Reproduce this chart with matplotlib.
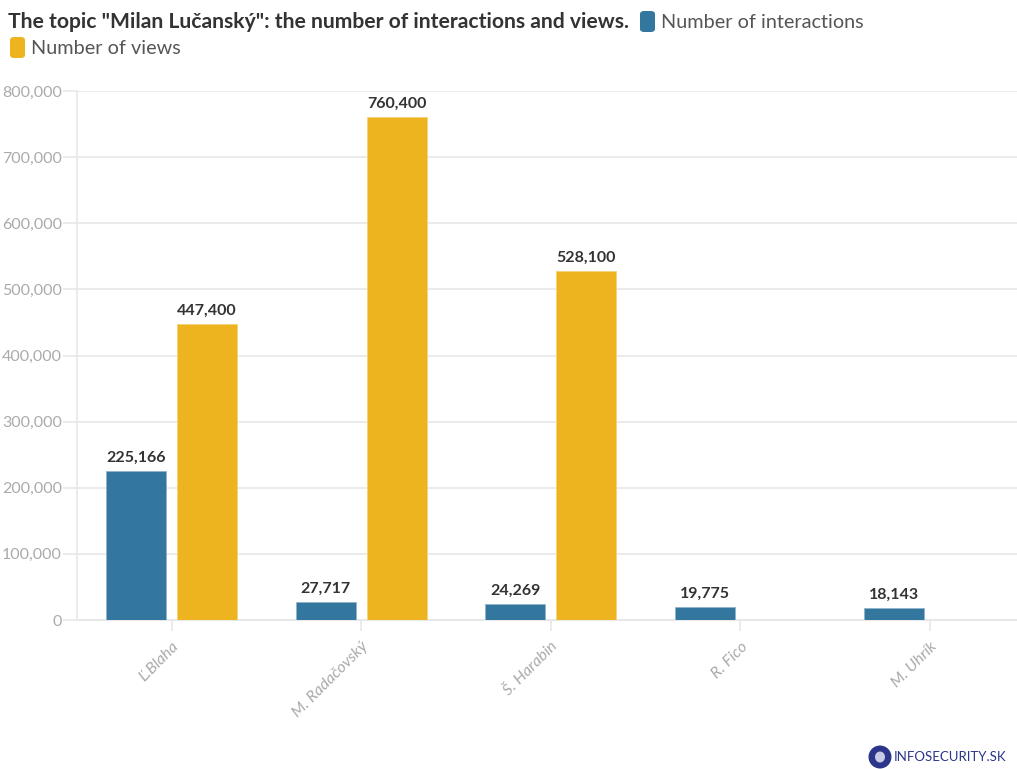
"""Interactions and views per person for the topic "Milan Lučanský"."""

import matplotlib
matplotlib.use("Agg")
import matplotlib.pyplot as plt
import matplotlib.patches as mpatches
import numpy as np

people = ["Ľ.Blaha", "M. Radačovský", "Š. Harabin", "R. Fico", "M. Uhrík"]
interactions = [225166, 27717, 24269, 19775, 18143]
views = [447400, 760400, 528100, None, None]
y_ticks = [0, 100000, 200000, 300000, 400000, 500000, 600000, 700000, 800000]

BLUE = "#33779f"
YELLOW = "#eeb41f"
GRID = "#e8e8e8"
TEXT_DARK = "#333333"
TEXT_GREY = "#aaaaaa"

plt.rcParams["font.family"] = ["Lato", "DejaVu Sans"]

W, H = 1017, 769
fig = plt.figure(figsize=(W / 100, H / 100), dpi=100)
ax = fig.add_axes([77 / W, 1 - 620 / H, (W - 77) / W, (620 - 91) / H])

x = np.arange(len(people))
bw = 0.317
off = 0.187

for i, v in enumerate(interactions):
    ax.bar(x[i] - off, v, width=bw, color=BLUE, edgecolor="#8fb4cc",
           linewidth=0.6, zorder=3)
    ax.text(x[i] - off, v + 9000, f"{v:,}", ha="center", va="bottom",
            fontsize=11.5, fontweight="bold", color=TEXT_DARK, zorder=4)
for i, v in enumerate(views):
    if v is None:
        continue
    ax.bar(x[i] + off, v, width=bw, color=YELLOW, edgecolor="#f5d27a",
           linewidth=0.6, zorder=3)
    ax.text(x[i] + off, v + 9000, f"{v:,}", ha="center", va="bottom",
            fontsize=11.5, fontweight="bold", color=TEXT_DARK, zorder=4)

ax.set_xlim(-0.5, -0.5 + (W - 77) / 189.5)
ax.set_ylim(0, 800000)
ax.set_yticks(y_ticks)
ax.set_yticklabels([f"{t:,}" for t in y_ticks], fontsize=11.5, color=TEXT_GREY)
ax.set_xticks(x)
ax.set_xticklabels(people, rotation=45, ha="right", rotation_mode="anchor",
                   fontsize=11.5, fontstyle="italic", color=TEXT_GREY)
ax.tick_params(axis="y", length=10, width=1.2, color=GRID, pad=1)
ax.tick_params(axis="x", length=8, width=1.2, color=GRID, pad=6)

ax.grid(axis="y", color=GRID, linewidth=1.2, zorder=0)
ax.set_axisbelow(True)
for side in ["top", "right"]:
    ax.spines[side].set_visible(False)
ax.spines["left"].set_color(GRID)
ax.spines["left"].set_linewidth(1.2)
ax.spines["bottom"].set_color(GRID)
ax.spines["bottom"].set_linewidth(1.5)

# Title and inline legend
fig.text(8 / W, 1 - 22 / H, 'The topic "Milan Lučanský": the number of interactions and views.',
         ha="left", va="center", fontsize=15.2, fontweight="bold", color=TEXT_DARK)
legend_items = [("Number of interactions", BLUE, 640, 22),
                ("Number of views", YELLOW, 10, 48)]
for label, col, lx, ly in legend_items:
    fig.patches.append(mpatches.FancyBboxPatch(
        (lx / W, 1 - (ly + 10) / H), 15 / W, 21 / H,
        boxstyle="round,pad=0,rounding_size=0.004", transform=fig.transFigure,
        facecolor=col, edgecolor="none"))
    fig.text((lx + 21) / W, 1 - ly / H, label, ha="left", va="center",
             fontsize=14.3, color="#555555")

# Source mark, bottom right
fig.patches.append(mpatches.Ellipse((880 / W, 1 - 757 / H), 23 / W, 23 / H,
                                    transform=fig.transFigure,
                                    facecolor="#2b3589", edgecolor="none"))
fig.patches.append(mpatches.Ellipse((880 / W, 1 - 757 / H), 10 / W, 11 / H,
                                    transform=fig.transFigure,
                                    facecolor="#c9cbe6", edgecolor="none"))
fig.text(894 / W, 1 - 757 / H, "INFOSECURITY.SK", ha="left", va="center",
         fontsize=9.5, color="#2b3589")

fig.savefig("out.png", dpi=100, facecolor="white")
